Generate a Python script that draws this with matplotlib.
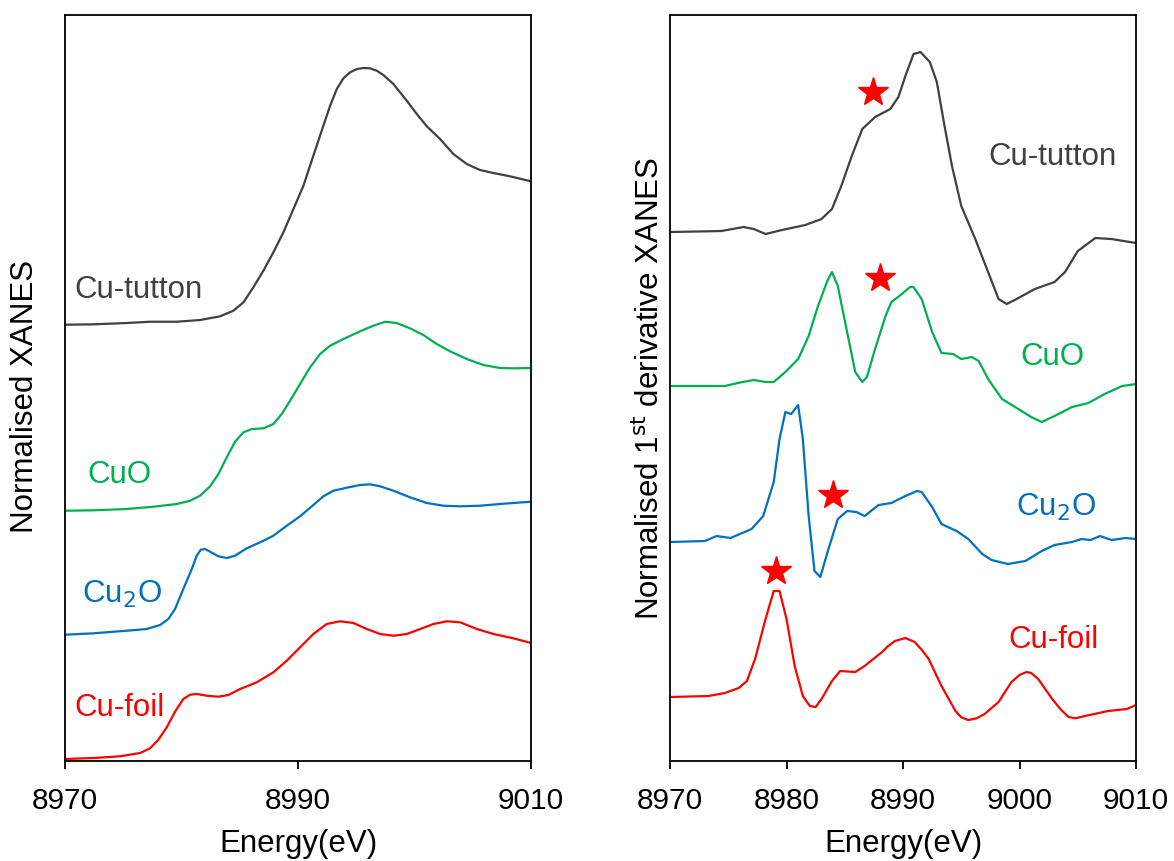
import matplotlib
matplotlib.use("Agg")
import matplotlib.pyplot as plt

plt.rcParams['font.family'] = ['Liberation Sans', 'DejaVu Sans']

# --- Left panel: normalised XANES (offset stacked) ---
tut_e = [8970.0, 8972.43, 8975.29, 8977.30, 8979.59, 8981.59, 8983.30, 8984.45, 8985.31, 8986.16,
         8987.02, 8987.88, 8988.74, 8989.60, 8990.46, 8991.31, 8992.17, 8992.75, 8993.32, 8993.89,
         8994.46, 8995.04, 8995.61, 8996.18, 8996.76, 8997.32, 8998.18, 8999.33, 9000.19, 9001.05,
         9002.19, 9003.33, 9004.48, 9005.62, 9006.77, 9008.20, 9010.0]
tut_y = [4.363, 4.367, 4.38, 4.393, 4.393, 4.41, 4.447, 4.503, 4.587, 4.737,
         4.903, 5.087, 5.287, 5.52, 5.753, 6.053, 6.353, 6.553, 6.72, 6.827,
         6.887, 6.92, 6.93, 6.927, 6.903, 6.86, 6.77, 6.603, 6.47, 6.347,
         6.22, 6.07, 5.97, 5.91, 5.88, 5.847, 5.797]

cuo_e = [8970.0, 8972.43, 8975.29, 8977.58, 8979.59, 8980.73, 8981.59, 8982.45, 8983.16, 8983.88,
         8984.59, 8985.31, 8986.03, 8987.02, 8987.88, 8988.60, 8989.31, 8990.17, 8991.03, 8991.89,
         8992.75, 8993.89, 8995.32, 8996.46, 8997.47, 8998.47, 8999.61, 9000.76, 9001.90, 9003.05,
         9004.48, 9005.91, 9007.34, 9008.48, 9010.0]
cuo_y = [2.503, 2.507, 2.52, 2.543, 2.57, 2.603, 2.653, 2.747, 2.87, 3.037,
         3.193, 3.287, 3.32, 3.327, 3.37, 3.47, 3.603, 3.77, 3.937, 4.07,
         4.153, 4.22, 4.297, 4.353, 4.393, 4.38, 4.327, 4.26, 4.17, 4.097,
         4.02, 3.96, 3.93, 3.927, 3.93]

cu2o_e = [8970.0, 8972.43, 8975.29, 8977.01, 8978.15, 8978.87, 8979.44, 8980.15, 8980.88, 8981.30,
          8981.65, 8982.02, 8982.45, 8983.16, 8983.88, 8984.59, 8985.59, 8986.74, 8987.88, 8989.03,
          8990.17, 8991.31, 8992.17, 8993.03, 8994.18, 8995.32, 8996.18, 8997.04, 8998.18, 8999.61,
          9001.05, 9002.47, 9003.91, 9005.62, 9007.62, 9010.0]
cu2o_y = [1.263, 1.277, 1.303, 1.32, 1.36, 1.42, 1.52, 1.72, 1.92, 2.053,
          2.113, 2.12, 2.093, 2.047, 2.03, 2.053, 2.127, 2.187, 2.253, 2.353,
          2.447, 2.56, 2.647, 2.703, 2.733, 2.76, 2.767, 2.747, 2.703, 2.637,
          2.58, 2.553, 2.547, 2.553, 2.573, 2.593]

foil_e = [8970.0, 8972.43, 8974.72, 8976.44, 8977.30, 8978.01, 8978.73, 8979.44, 8980.15, 8980.73,
          8981.30, 8982.16, 8983.16, 8984.02, 8985.02, 8986.45, 8987.88, 8989.03, 8990.17, 8991.31,
          8992.46, 8993.61, 8994.75, 8995.90, 8997.04, 8998.18, 8999.33, 9000.47, 9001.61, 9002.76,
          9003.91, 9005.34, 9006.77, 9008.48, 9010.0]
foil_y = [0.02, 0.03, 0.047, 0.08, 0.127, 0.213, 0.337, 0.493, 0.62, 0.663,
          0.67, 0.653, 0.643, 0.66, 0.72, 0.787, 0.887, 1.003, 1.137, 1.27,
          1.37, 1.397, 1.38, 1.32, 1.27, 1.253, 1.27, 1.32, 1.37, 1.397,
          1.387, 1.32, 1.27, 1.227, 1.18]

# --- Right panel: first derivative ---
dtut_e = [8970.0, 8974.4, 8976.3, 8977.2, 8978.2, 8979.6, 8981.6, 8983.0, 8983.9, 8984.7,
          8985.6, 8986.5, 8987.6, 8988.9, 8989.6, 8990.2, 8990.9, 8991.5, 8992.3, 8992.9,
          8993.5, 8994.2, 8995.0, 8996.2, 8997.3, 8998.2, 8998.9, 8999.9, 9001.3, 9003.0,
          9003.9, 9005.0, 9006.5, 9007.9, 9010.0]
dtut_y = [5.29, 5.30, 5.34, 5.32, 5.27, 5.31, 5.36, 5.42, 5.52, 5.75,
          6.05, 6.32, 6.44, 6.52, 6.64, 6.85, 7.07, 7.09, 6.99, 6.79,
          6.39, 5.95, 5.55, 5.22, 4.89, 4.62, 4.57, 4.63, 4.72, 4.79,
          4.89, 5.10, 5.23, 5.22, 5.18]

dcuo_e = [8970.0, 8974.7, 8976.2, 8977.2, 8978.2, 8978.9, 8979.9, 8981.0, 8981.9, 8982.7,
          8983.5, 8983.9, 8984.4, 8985.2, 8985.9, 8986.5, 8986.9, 8987.6, 8988.5, 8989.0,
          8989.9, 8990.6, 8990.9, 8991.6, 8992.5, 8993.3, 8994.3, 8995.0, 8995.9, 8996.5,
          8997.3, 8998.5, 8999.9, 9001.0, 9001.9, 9003.0, 9004.5, 9005.9, 9007.3, 9008.8,
          9010.0]
dcuo_y = [3.75, 3.75, 3.79, 3.81, 3.79, 3.79, 3.89, 4.02, 4.25, 4.55,
          4.80, 4.89, 4.75, 4.29, 3.89, 3.79, 3.84, 4.12, 4.45, 4.59,
          4.67, 4.74, 4.74, 4.62, 4.29, 4.08, 4.07, 4.02, 4.04, 4.00,
          3.82, 3.62, 3.52, 3.44, 3.39, 3.45, 3.54, 3.58, 3.67, 3.75,
          3.77]

dcu2o_e = [8970.0, 8973.0, 8974.0, 8975.2, 8977.0, 8978.0, 8978.9, 8979.4, 8979.9, 8980.4,
           8981.0, 8981.4, 8981.9, 8982.4, 8982.9, 8983.6, 8984.4, 8985.2, 8986.0, 8986.7,
           8987.9, 8989.0, 8990.2, 8991.2, 8991.6, 8992.5, 8993.3, 8994.6, 8995.6, 8996.8,
           8997.6, 8999.0, 9000.5, 9001.9, 9003.0, 9004.5, 9005.3, 9006.1, 9006.9, 9007.9,
           9009.1, 9010.0]
dcu2o_y = [2.19, 2.20, 2.25, 2.23, 2.32, 2.45, 2.79, 3.22, 3.49, 3.47,
           3.56, 3.22, 2.45, 1.90, 1.84, 2.12, 2.42, 2.50, 2.49, 2.45,
           2.56, 2.58, 2.65, 2.70, 2.69, 2.54, 2.37, 2.30, 2.22, 2.07,
           2.01, 1.97, 2.00, 2.10, 2.16, 2.19, 2.22, 2.21, 2.25, 2.21,
           2.23, 2.22]

dfoil_e = [8970.0, 8973.3, 8974.7, 8975.9, 8976.6, 8977.3, 8978.2, 8978.9, 8979.4, 8980.0,
           8980.7, 8981.4, 8982.0, 8982.5, 8983.0, 8983.9, 8984.6, 8985.9, 8986.7, 8988.2,
           8988.7, 8989.3, 8990.2, 8991.0, 8991.6, 8992.2, 8993.3, 8994.5, 8995.0, 8995.6,
           8996.3, 8997.0, 8998.2, 8999.3, 9000.0, 9000.6, 9001.0, 9001.6, 9002.8, 9003.5,
           9004.2, 9004.8, 9005.6, 9007.6, 9009.2, 9010.0]
dfoil_y = [0.64, 0.65, 0.68, 0.73, 0.80, 1.02, 1.42, 1.70, 1.70, 1.42,
           0.95, 0.65, 0.55, 0.54, 0.62, 0.80, 0.90, 0.89, 0.95, 1.09,
           1.147, 1.20, 1.23, 1.19, 1.113, 1.02, 0.75, 0.50, 0.437, 0.41,
           0.427, 0.47, 0.59, 0.79, 0.86, 0.89, 0.88, 0.82, 0.62, 0.52,
           0.44, 0.427, 0.45, 0.50, 0.52, 0.56]

# red stars marking pre-edge features
star_e = [8987.4, 8988.0, 8984.0, 8979.1]
star_y = [6.69, 4.83, 2.66, 1.90]

# colours
C_TUT, C_CUO, C_CU2O, C_FOIL = "#404040", "#00B050", "#0070C0", "#FF0000"

fig = plt.figure(figsize=(11.74, 8.62), dpi=100)
ax1 = fig.add_axes([0.0554, 0.116, 0.397, 0.8654])
ax2 = fig.add_axes([0.5707, 0.116, 0.397, 0.8654])

lw = 1.6
ax1.plot(tut_e, tut_y, color=C_TUT, lw=lw)
ax1.plot(cuo_e, cuo_y, color=C_CUO, lw=lw)
ax1.plot(cu2o_e, cu2o_y, color=C_CU2O, lw=lw)
ax1.plot(foil_e, foil_y, color=C_FOIL, lw=lw)

ax2.plot(dtut_e, dtut_y, color=C_TUT, lw=lw)
ax2.plot(dcuo_e, dcuo_y, color=C_CUO, lw=lw)
ax2.plot(dcu2o_e, dcu2o_y, color=C_CU2O, lw=lw)
ax2.plot(dfoil_e, dfoil_y, color=C_FOIL, lw=lw)
ax2.plot(star_e, star_y, ls="none", marker="*", ms=22, color=C_FOIL, mec=C_FOIL)

fs = 22.5
# sample labels
ax1.text(8970.8, 4.72, "Cu-tutton", color=C_TUT, fontsize=fs, va="center")
ax1.text(8971.9, 2.87, "CuO", color=C_CUO, fontsize=fs, va="center")
ax1.text(8971.45, 1.68, "Cu$_2$O", color=C_CU2O, fontsize=fs, va="center")
ax1.text(8970.8, 0.54, "Cu-foil", color=C_FOIL, fontsize=fs, va="center")

ax2.text(8997.3, 6.05, "Cu-tutton", color=C_TUT, fontsize=fs, va="center")
ax2.text(9000.1, 4.05, "CuO", color=C_CUO, fontsize=fs, va="center")
ax2.text(8999.7, 2.55, "Cu$_2$O", color=C_CU2O, fontsize=fs, va="center")
ax2.text(8999.0, 1.22, "Cu-foil", color=C_FOIL, fontsize=fs, va="center")

for ax, ticks in ((ax1, [8970, 8990, 9010]), (ax2, [8970, 8980, 8990, 9000, 9010])):
    ax.set_xlim(8970, 9010)
    ax.set_ylim(0, 7.46)
    ax.set_xticks(ticks)
    ax.set_yticks([])
    ax.tick_params(axis="x", direction="out", length=6, width=1.3, pad=12, labelsize=21.5)
    for s in ax.spines.values():
        s.set_linewidth(1.3)
    ax.set_xlabel("Energy(eV)", fontsize=fs, labelpad=10)

ax1.set_ylabel("Normalised XANES", fontsize=fs)
ax1.yaxis.set_label_coords(-0.054, 0.49)
ax2.set_ylabel("Normalised 1$^{\\mathrm{st}}$ derivative XANES", fontsize=fs)
ax2.yaxis.set_label_coords(-0.008, 0.5)

fig.savefig("out.png", dpi=100)
